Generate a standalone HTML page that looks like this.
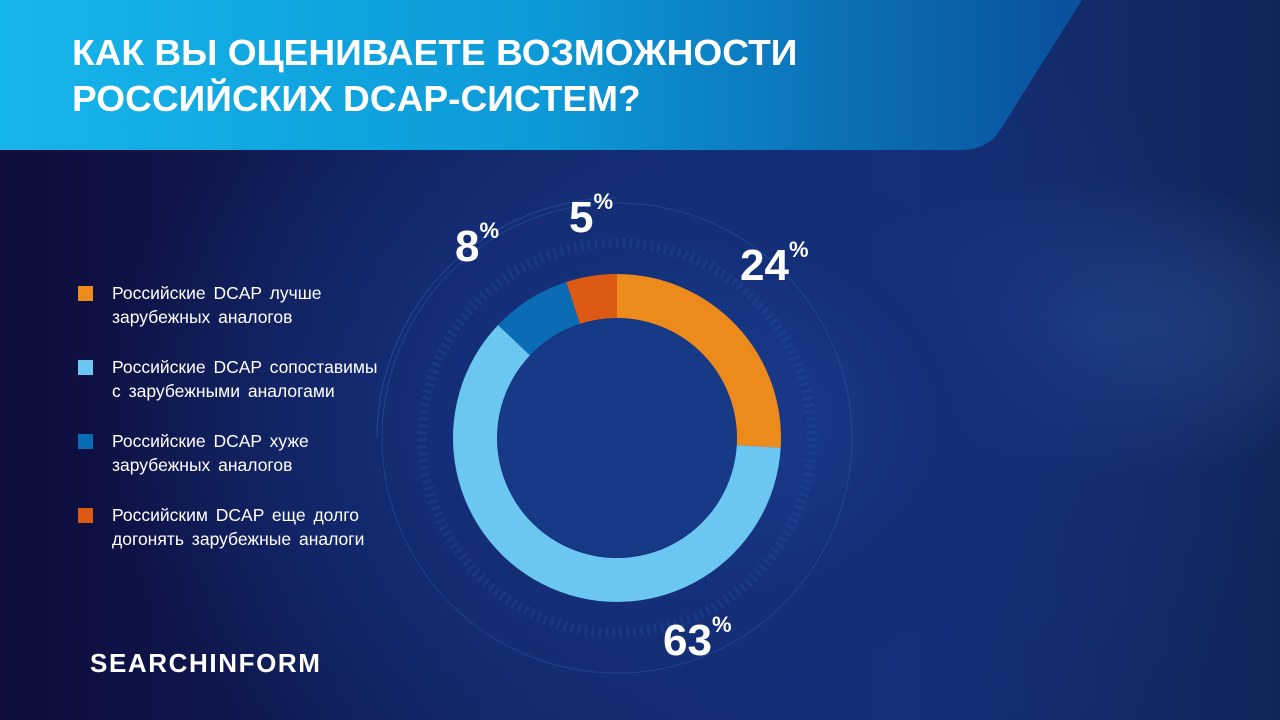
<!DOCTYPE html>
<html><head><meta charset="utf-8"><style>
body{margin:0;width:1280px;height:720px;overflow:hidden;font-family:"Liberation Sans",sans-serif;}
#bg{position:absolute;inset:0;background:radial-gradient(ellipse 600px 450px at 700px 420px,#1a3d8f 0%,#142f78 40%,rgba(16,30,90,0) 100%),radial-gradient(ellipse 300px 150px at 1100px 330px,rgba(60,110,180,0.45),rgba(0,0,0,0)),linear-gradient(90deg,#0d0c3a 0%,#122565 40%,#14307a 70%,#112558 100%);}
.leg{position:absolute;left:78px;color:#fff;font-size:17.5px;line-height:24px;}
.leg i{position:absolute;left:0;top:5px;width:15px;height:15px;}
.leg span{position:absolute;left:34px;white-space:nowrap;word-spacing:3px;}
.pct{position:absolute;color:#fff;font-weight:bold;font-size:44px;font-family:"Liberation Sans",sans-serif;}
.pct sup{font-size:22px;vertical-align:top;position:relative;top:-4px;}
</style></head><body>
<div id="bg"></div>
<svg width="1280" height="720" style="position:absolute;left:0;top:0">
<defs><linearGradient id="hg" x1="0" x2="1" y1="0" y2="0"><stop offset="0" stop-color="#16b5eb"/><stop offset="0.5" stop-color="#0d9ad8"/><stop offset="1" stop-color="#0a4f9c"/></linearGradient></defs>
<path d="M0 0 H1082 L1000 130 Q988 150 960 150 H0 Z" fill="url(#hg)"/>
<g fill="none" stroke="#2a5aa8" opacity="0.5">
<circle cx="617" cy="438" r="235" stroke-width="1"/>
<circle cx="617" cy="438" r="195" stroke-width="10" stroke-dasharray="3 4" opacity="0.5"/>
<circle cx="617" cy="438" r="70" stroke-width="1"/>
</g>
<path d="M617 438 m-240 0 a240 240 0 0 1 240 -240" fill="none" stroke="#2b5db0" stroke-width="1" opacity="0.6"/>
<g transform="translate(617,438)">
<path d="M0,-164 A164,164 0 0 1 163.7,9.8 L119.8,7.2 A120,120 0 0 0 0,-120 Z" fill="#ec8a1c"/>
<path d="M163.7,9.8 A164,164 0 1 1 -118.9,-113 L-87,-82.6 A120,120 0 1 0 119.8,7.2 Z" fill="#6cc6f2"/>
<path d="M-118.9,-113 A164,164 0 0 1 -50.7,-156 L-37.1,-114.1 A120,120 0 0 0 -87,-82.6 Z" fill="#0b6bb5"/>
<path d="M-50.7,-156 A164,164 0 0 1 0,-164 L0,-120 A120,120 0 0 0 -37.1,-114.1 Z" fill="#dc5a14"/>
<circle r="119" fill="#173a86"/>
</g>
</svg>
<div style="position:absolute;left:72px;top:30px;color:#fff;font-weight:bold;font-size:36px;line-height:46px;transform:scaleX(1.03);transform-origin:left;white-space:nowrap">КАК ВЫ ОЦЕНИВАЕТЕ ВОЗМОЖНОСТИ<br>РОССИЙСКИХ DCAP-СИСТЕМ?</div>
<div class="leg" style="top:281px"><i style="background:#ec8a1c"></i><span>Российские DCAP лучше<br>зарубежных аналогов</span></div>
<div class="leg" style="top:355px"><i style="background:#6cc6f2"></i><span>Российские DCAP сопоставимы<br>с зарубежными аналогами</span></div>
<div class="leg" style="top:429px"><i style="background:#0b6bb5"></i><span>Российские DCAP хуже<br>зарубежных аналогов</span></div>
<div class="leg" style="top:503px"><i style="background:#dc5a14"></i><span>Российским DCAP еще долго<br>догонять зарубежные аналоги</span></div>
<div class="pct" style="left:455px;top:222px">8<sup>%</sup></div>
<div class="pct" style="left:569px;top:193px">5<sup>%</sup></div>
<div class="pct" style="left:740px;top:241px">24<sup>%</sup></div>
<div class="pct" style="left:663px;top:616px">63<sup>%</sup></div>
<div style="position:absolute;left:90px;top:648px;color:#fff;font-size:26px;font-weight:bold;letter-spacing:1.6px">SEARCHINFORM</div>
</body></html>
